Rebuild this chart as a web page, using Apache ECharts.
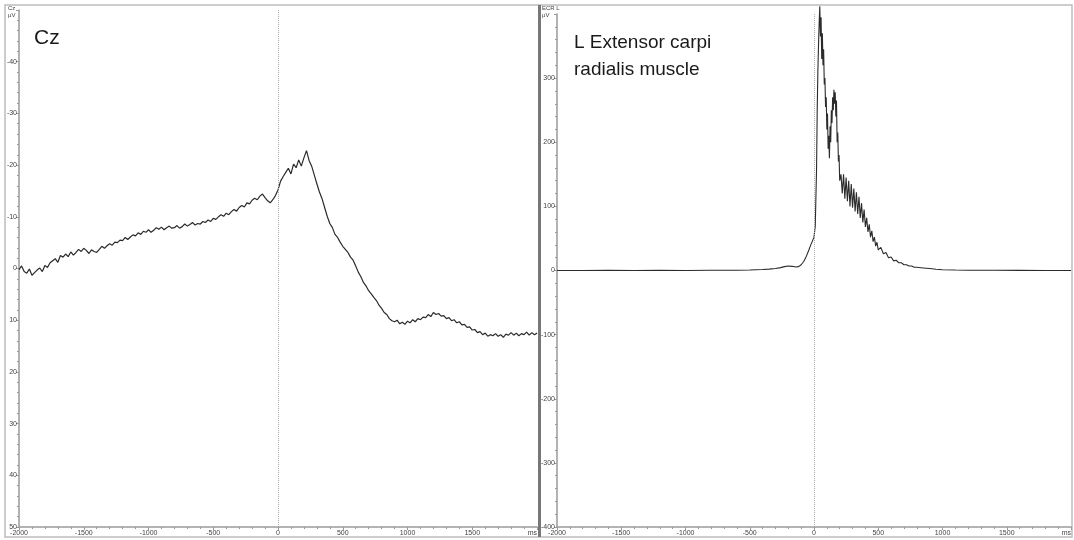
<!DOCTYPE html>
<html>
<head>
<meta charset="utf-8">
<script src="https://cdn.jsdelivr.net/npm/echarts@6/dist/echarts.min.js"></script>
<style>html,body{margin:0;padding:0;background:#fff;}#c{width:1074px;height:540px;}</style>
</head>
<body>
<div id="c"></div>
<script>
// Cz (EEG) readings, one every 20 ms from -2000 ms to 2000 ms (µV, negative up)
var czStart = -2000;
var czStep = 20;
var czValues = [
 0.2,-0.5,0.6,0.9,0.1,1.3,0.8,0.3,-0.1,0.6,
 -0.6,-0.2,-1.1,-1.5,-1.9,-1.2,-2.5,-2.2,-2.8,-2.3,
 -3.2,-2.6,-3.1,-3.7,-3.3,-3.9,-3.5,-2.9,-3.6,-3.3,
 -3.1,-3.7,-4.3,-3.9,-4.4,-4.8,-4.5,-5.1,-5.0,-5.5,
 -5.4,-6.0,-5.6,-6.1,-6.5,-6.3,-6.9,-6.6,-7.2,-7.0,
 -7.5,-7.0,-7.4,-7.9,-7.6,-8.0,-7.5,-7.9,-8.2,-7.8,
 -7.9,-8.3,-7.8,-8.1,-8.6,-8.2,-8.5,-8.9,-8.4,-8.7,
 -8.6,-9.1,-8.9,-9.4,-9.1,-9.7,-9.5,-10.0,-10.4,-10.1,
 -10.7,-10.4,-11.0,-11.4,-11.1,-11.8,-12.2,-11.9,-12.7,-12.5,
 -13.2,-13.6,-13.3,-14.0,-14.4,-13.7,-13.1,-12.7,-13.3,-14.1,
 -15.2,-16.9,-17.8,-18.6,-19.4,-18.3,-20.2,-19.5,-21.0,-19.8,
 -21.4,-22.8,-20.9,-19.8,-18.1,-16.4,-14.8,-13.5,-11.8,-10.1,
 -8.7,-7.9,-6.6,-6.0,-5.1,-4.3,-3.7,-3.1,-2.2,-1.6,
 -0.5,0.7,1.6,2.7,3.4,4.3,4.9,5.6,6.2,7.1,
 7.7,8.5,8.9,9.7,10.1,10.3,10.0,10.7,10.4,10.8,
 10.2,10.5,9.9,10.3,9.7,9.9,9.4,9.5,8.9,9.3,
 8.5,8.9,8.7,9.2,9.1,9.7,9.5,10.1,9.9,10.5,
 10.3,10.9,10.8,11.4,11.3,11.9,11.8,12.4,12.2,12.8,
 12.5,13.1,12.8,13.0,12.6,13.1,12.8,13.3,12.7,12.9,
 12.4,12.9,12.5,13.0,12.6,12.8,12.3,12.9,12.4,12.8,
 12.5
];

// ECR L (EMG) readings
var ecrTimes = [-2000,-1800,-1600,-1400,-1200,-1000,-800,-600,-500,-400,-350,-300,-260,-230,-200,-170,-140,-120,-100,-80,-60,-40,-25,-10,0,10,20,25,30,35,40,45,50,55,60,65,70,75,80,85,90,95,100,105,110,115,120,125,130,135,140,145,150,155,160,165,170,175,180,185,190,195,200,210,220,230,240,250,260,270,280,290,300,310,320,330,340,350,360,370,380,390,400,410,420,430,440,450,460,470,480,490,500,520,540,560,580,600,620,640,660,680,700,720,740,760,780,800,850,900,950,1000,1100,1200,1400,1600,1800,2000];
var ecrValues = [0,0,0.3,0,0.2,0,0.3,0.5,0.8,1.5,2.2,3,4.5,6,7,6.5,5.5,6,9,14,22,32,40,47,52,70,160,250,310,350,385,412,365,395,330,370,320,345,290,300,255,270,220,245,190,210,175,225,200,250,230,270,250,282,260,278,240,265,200,215,170,180,140,150,120,150,112,145,108,140,100,135,98,128,92,122,88,115,82,105,75,95,68,82,60,72,52,62,45,52,38,44,32,36,26,28,20,21,15,16,12,12,9,9,7,7,5,5,4,3,2,1.2,0.8,0.5,0.3,0.2,0.1,0,0];

var xTicksMin = -2000, xTicksMax = 2000, xTickStep = 500;
var czTickMin = -50, czTickMax = 50, czTickStep = 10;
var ecrTickMin = -400, ecrTickMax = 400, ecrTickStep = 100;
var czTitle = 'Cz';
var ecrTitle = 'L Extensor carpi\nradialis muscle';

var czData = czValues.map(function (v, i) { return [czStart + czStep * i, v]; });
var ecrData = ecrTimes.map(function (t, i) { return [t, ecrValues[i]]; });

var FONT = '"Liberation Sans", Arial, sans-serif';
var axisGrey = '#9a9a9a';
var labelStyle = { fontSize: 7, color: '#444', fontFamily: FONT };

function xAxis(gi) {
  return {
    type: 'value', gridIndex: gi, min: xTicksMin, max: xTicksMax, interval: xTickStep,
    axisLine: { show: true, onZero: false, lineStyle: { color: axisGrey, width: 1.5 } },
    axisTick: { show: true, length: 3, lineStyle: { color: axisGrey } },
    minorTick: { show: true, splitNumber: 5, length: 2, lineStyle: { color: axisGrey } },
    splitLine: { show: false },
    axisLabel: Object.assign({ margin: 3, alignMaxLabel: 'right', formatter: function (v) { return v === xTicksMax ? 'ms' : String(v); } }, labelStyle)
  };
}
function yAxis(gi, mn, mx, step, inv) {
  return {
    type: 'value', gridIndex: gi, min: mn, max: mx, interval: step, inverse: inv,
    axisLine: { show: true, onZero: false, lineStyle: { color: axisGrey, width: 1.5 } },
    axisTick: { show: true, length: 3, lineStyle: { color: axisGrey } },
    minorTick: { show: true, splitNumber: 5, length: 2, lineStyle: { color: axisGrey } },
    splitLine: { show: false },
    axisLabel: Object.assign({ margin: 2, formatter: function (v) {
      if ((inv && v === mn) || (!inv && v === mx)) return '';
      return String(v);
    } }, labelStyle)
  };
}
function zeroLine() {
  return {
    silent: true, symbol: ['none', 'none'], label: { show: false },
    lineStyle: { type: 'dotted', color: '#aaa', width: 1 },
    data: [{ xAxis: 0 }]
  };
}

var chart = echarts.init(document.getElementById('c'), null, { renderer: 'canvas' });
chart.setOption({
  animation: false,
  backgroundColor: '#fff',
  grid: [
    { left: 19, right: 537, top: 10, bottom: 13 },
    { left: 557, right: 1, top: 14, bottom: 13 }
  ],
  xAxis: [xAxis(0), xAxis(1)],
  yAxis: [
    yAxis(0, czTickMin, czTickMax, czTickStep, true),
    yAxis(1, ecrTickMin, ecrTickMax, ecrTickStep, false)
  ],
  series: [
    { type: 'line', xAxisIndex: 0, yAxisIndex: 0, data: czData, showSymbol: false, symbol: 'none',
      lineStyle: { color: '#2b2b2b', width: 1.2 }, markLine: zeroLine() },
    { type: 'line', xAxisIndex: 1, yAxisIndex: 1, data: ecrData, showSymbol: false, symbol: 'none', clip: false,
      lineStyle: { color: '#2b2b2b', width: 1.1 }, markLine: zeroLine() }
  ],
  graphic: [
    { type: 'rect', shape: { x: 5, y: 5, width: 1067, height: 532 }, style: { fill: 'none', stroke: '#bdbdbd', lineWidth: 1.5 }, z: -1 },
    { type: 'rect', shape: { x: 538, y: 5, width: 3, height: 532 }, style: { fill: '#777' } },
    { type: 'text', left: 8, top: 5, style: { text: 'Cz', fontSize: 6, fill: '#444', fontFamily: FONT } },
    { type: 'text', left: 8, top: 12, style: { text: 'µV', fontSize: 6, fill: '#444', fontFamily: FONT } },
    { type: 'text', left: 542, top: 5, style: { text: 'ECR L', fontSize: 6, fill: '#444', fontFamily: FONT } },
    { type: 'text', left: 542, top: 12, style: { text: 'µV', fontSize: 6, fill: '#444', fontFamily: FONT } },
    { type: 'text', left: 34, top: 28, style: { text: czTitle, fontSize: 21, fill: '#1a1a1a', fontFamily: FONT } },
    { type: 'text', left: 574, top: 29, style: { text: ecrTitle, fontSize: 19, lineHeight: 27, fill: '#1a1a1a', fontFamily: FONT } }
  ]
});
</script>
</body>
</html>
